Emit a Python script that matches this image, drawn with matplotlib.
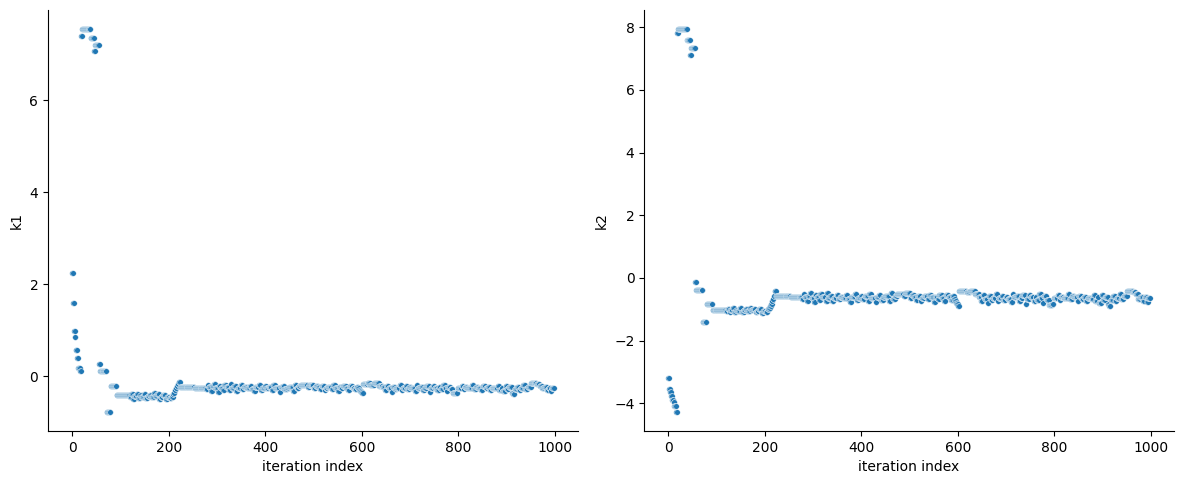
import numpy as np
import matplotlib
matplotlib.use("Agg")
import matplotlib.pyplot as plt
import seaborn as sns

# Trace as runs of constant values (sampler holds value while proposals are rejected)
run_len = [
    # burn-in 0-91
    2, 2, 2, 2, 3, 2, 4, 2,
    2, 18, 7, 2, 8,
    2, 14, 8, 12,
    # plateau 92-205
    28, 3, 4, 2, 5, 3, 4, 2, 6, 3, 5, 4, 3, 6, 2, 4, 5, 3, 4, 6, 3, 5, 4,
    # rise 206-223
    3, 2, 2, 2, 2, 2, 2, 3,
    # plateau 224-277
    30, 24,
    # A 278-362
    3, 2, 5, 2, 4, 3, 6, 2, 3, 5, 2, 4, 7, 3, 2, 5, 4, 3, 6, 4, 3, 7,
    # B 363-473
    6, 3, 5, 2, 8, 4, 3, 6, 2, 5, 7, 3, 4, 9, 2, 5, 3, 6, 4, 8, 3, 4, 5, 4,
    # C 474-509
    14, 3, 10, 4, 5,
    # D 510-604
    4, 3, 6, 2, 5, 8, 3, 4, 6, 2, 5, 3, 7, 4, 3, 6, 5, 4, 3, 2, 2, 2, 2, 2,
    # E 605-645
    9, 6, 8, 10, 8,
    # F 646-797
    5, 3, 4, 6, 2, 5, 3, 7, 4, 2, 6, 3, 5, 4, 8, 3, 2, 5, 6, 3, 4, 7, 2, 5,
    3, 6, 4, 3, 5, 4, 3, 2, 6, 5, 7,
    # G 798-879
    3, 8, 4, 2, 6, 10, 3, 5, 4, 7, 3, 6, 4, 5, 3, 9,
    # H 880-952
    4, 3, 5, 2, 6, 3, 4, 7, 2, 3, 5, 4, 3, 6, 4, 5, 7,
    # I 953-975
    12, 6, 5,
    # J 976-1000
    4, 6, 3, 5, 2, 5,
]

k1_run = [
    2.25, 1.6, 0.99, 0.86, 0.56, 0.39, 0.17, 0.12,
    7.4, 7.55, 7.37, 7.07, 7.2,
    0.27, 0.1, -0.78, -0.22,
    -0.42, -0.46, -0.40, -0.50, -0.44, -0.38, -0.47, -0.42, -0.45, -0.39, -0.48, -0.43,
    -0.41, -0.46, -0.37, -0.44, -0.40, -0.49, -0.45, -0.42, -0.50, -0.46, -0.48,
    -0.45, -0.40, -0.36, -0.31, -0.27, -0.22, -0.18, -0.14,
    -0.24, -0.26,
    -0.28, -0.20, -0.24, -0.33, -0.22, -0.17, -0.27, -0.34, -0.21, -0.25, -0.30, -0.19,
    -0.24, -0.31, -0.18, -0.26, -0.22, -0.33, -0.25, -0.20, -0.29, -0.24,
    -0.25, -0.21, -0.28, -0.33, -0.24, -0.19, -0.30, -0.26, -0.22, -0.27, -0.23, -0.31,
    -0.20, -0.26, -0.34, -0.24, -0.21, -0.28, -0.25, -0.23, -0.32, -0.19, -0.27, -0.22,
    -0.20, -0.23, -0.19, -0.26, -0.22,
    -0.24, -0.29, -0.22, -0.31, -0.26, -0.23, -0.28, -0.20, -0.25, -0.32, -0.24, -0.27,
    -0.22, -0.26, -0.30, -0.21, -0.25, -0.28, -0.23, -0.27, -0.31, -0.33, -0.35, -0.37,
    -0.17, -0.15, -0.19, -0.16, -0.21,
    -0.24, -0.30, -0.21, -0.27, -0.34, -0.23, -0.28, -0.25, -0.19, -0.31, -0.26, -0.22,
    -0.29, -0.24, -0.27, -0.33, -0.20, -0.25, -0.23, -0.30, -0.26, -0.22, -0.35, -0.27,
    -0.21, -0.25, -0.31, -0.24, -0.28, -0.20, -0.26, -0.33, -0.23, -0.29, -0.37,
    -0.36, -0.25, -0.21, -0.29, -0.24, -0.26, -0.20, -0.28, -0.23, -0.25, -0.31, -0.22,
    -0.27, -0.24, -0.30, -0.26,
    -0.27, -0.22, -0.30, -0.25, -0.33, -0.21, -0.28, -0.24, -0.36, -0.40, -0.29, -0.23,
    -0.31, -0.26, -0.20, -0.28, -0.24,
    -0.16, -0.18, -0.22,
    -0.27, -0.24, -0.31, -0.25, -0.33, -0.26,
]

k2_run = [
    -3.2, -3.54, -3.65, -3.77, -3.89, -3.96, -4.07, -4.27,
    7.8, 7.93, 7.6, 7.11, 7.33,
    -0.14, -0.39, -1.41, -0.84,
    -1.02, -1.06, -0.98, -1.10, -1.03, -0.96, -1.08, -1.01, -1.04, -0.97, -1.09, -1.02,
    -0.99, -1.05, -0.95, -1.03, -0.98, -1.10, -1.04, -1.00, -1.12, -1.05, -1.07,
    -1.00, -0.95, -0.88, -0.82, -0.74, -0.66, -0.58, -0.41,
    -0.58, -0.60,
    -0.66, -0.52, -0.60, -0.74, -0.58, -0.48, -0.64, -0.76, -0.55, -0.62, -0.70, -0.50,
    -0.61, -0.72, -0.49, -0.65, -0.57, -0.75, -0.63, -0.53, -0.68, -0.60,
    -0.63, -0.54, -0.68, -0.76, -0.60, -0.50, -0.71, -0.64, -0.56, -0.66, -0.58, -0.73,
    -0.52, -0.65, -0.78, -0.61, -0.55, -0.69, -0.62, -0.59, -0.74, -0.49, -0.67, -0.57,
    -0.50, -0.57, -0.48, -0.63, -0.55,
    -0.60, -0.70, -0.56, -0.74, -0.64, -0.58, -0.68, -0.53, -0.62, -0.76, -0.60, -0.66,
    -0.55, -0.63, -0.72, -0.54, -0.61, -0.69, -0.58, -0.66, -0.74, -0.79, -0.84, -0.89,
    -0.42, -0.40, -0.46, -0.41, -0.50,
    -0.62, -0.72, -0.54, -0.66, -0.80, -0.58, -0.69, -0.63, -0.50, -0.74, -0.65, -0.56,
    -0.70, -0.61, -0.67, -0.78, -0.52, -0.62, -0.59, -0.73, -0.64, -0.55, -0.82, -0.66,
    -0.53, -0.62, -0.75, -0.60, -0.69, -0.51, -0.64, -0.79, -0.58, -0.71, -0.85,
    -0.82, -0.63, -0.55, -0.70, -0.60, -0.65, -0.52, -0.68, -0.58, -0.62, -0.74, -0.56,
    -0.66, -0.61, -0.72, -0.64,
    -0.66, -0.55, -0.73, -0.62, -0.80, -0.53, -0.69, -0.60, -0.84, -0.88, -0.71, -0.57,
    -0.75, -0.64, -0.50, -0.68, -0.59,
    -0.41, -0.44, -0.52,
    -0.66, -0.60, -0.74, -0.62, -0.78, -0.63,
]

k1 = np.repeat(k1_run, run_len)
k2 = np.repeat(k2_run, run_len)
iteration = np.arange(len(k1))

fig, axes = plt.subplots(1, 2, figsize=(11.83, 4.84), dpi=100)
for ax, vals, name in zip(axes, [k1, k2], ["k1", "k2"]):
    sns.scatterplot(x=iteration, y=vals, ax=ax, s=16, color="#1f77b4",
                    edgecolor="white", linewidth=0.3)
    ax.set_xlabel("iteration index")
    ax.set_ylabel(name)
    sns.despine(ax=ax)

fig.subplots_adjust(left=0.0406, right=0.9924, bottom=0.1095, top=0.979, wspace=0.125)
fig.savefig("out.png", dpi=100)
